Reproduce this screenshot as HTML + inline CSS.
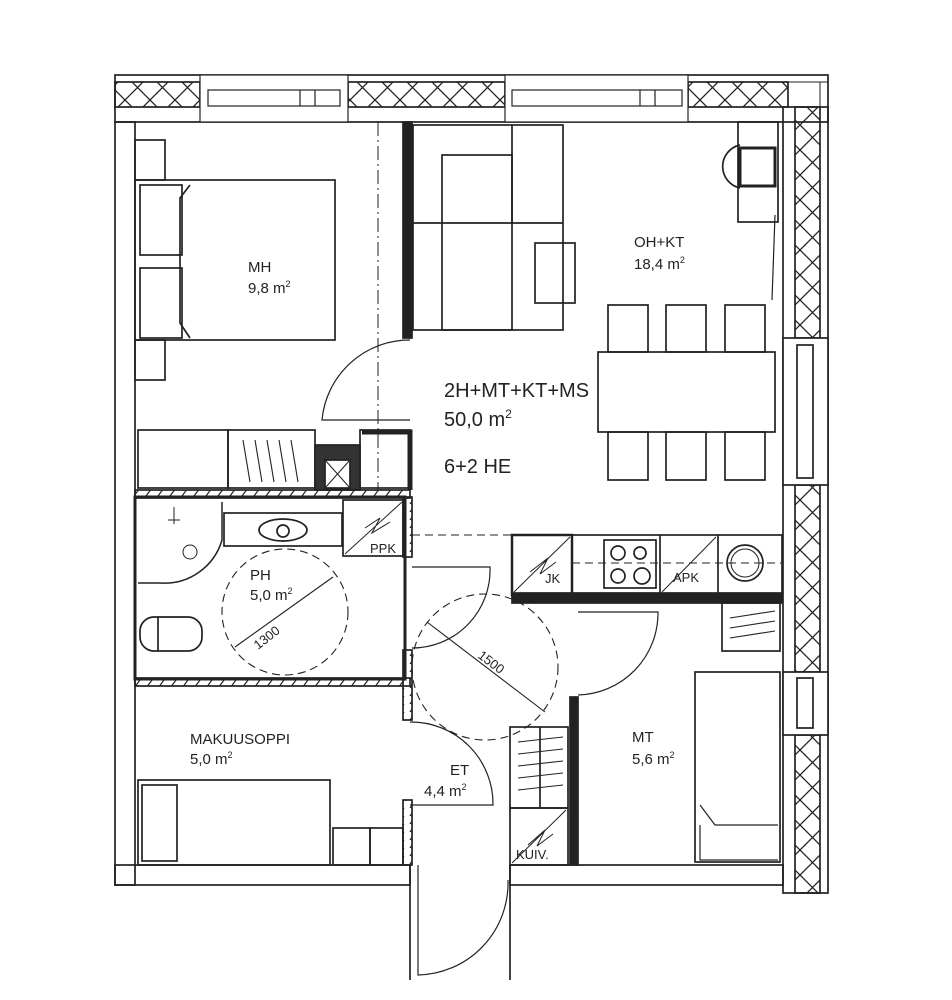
<!DOCTYPE html>
<html><head><meta charset="utf-8"><style>
html,body{margin:0;padding:0;background:#fff;}
svg{display:block;}
text{font-family:"Liberation Sans",sans-serif;fill:#222;}
</style></head><body>
<svg width="952" height="1000" viewBox="0 0 952 1000" xmlns="http://www.w3.org/2000/svg">
<defs>
<pattern id="xh" width="25" height="25" patternUnits="userSpaceOnUse">
<path d="M0 0L25 25M25 0L0 25" stroke="#222" stroke-width="1.3"/>
</pattern>
<pattern id="xv" width="25" height="25" patternUnits="userSpaceOnUse">
<path d="M0 0L25 25M25 0L0 25" stroke="#222" stroke-width="1.3"/>
</pattern>
<pattern id="sl" width="12" height="8" patternUnits="userSpaceOnUse">
<path d="M2 8L8 0" stroke="#222" stroke-width="1.2"/>
</pattern>
</defs>
<g fill="none" stroke="#222" stroke-width="1.7">
<!-- top wall -->
<rect x="115" y="75" width="713" height="47"/>
<line x1="115" y1="82" x2="828" y2="82" stroke-width="1"/>
<line x1="115" y1="107" x2="790" y2="107" stroke-width="1"/>
<rect x="115" y="82" width="85" height="25" fill="url(#xh)"/>
<rect x="348" y="82" width="157" height="25" fill="url(#xh)"/>
<rect x="688" y="82" width="100" height="25" fill="url(#xh)"/>
<g stroke-width="1.2">
<rect x="200" y="75" width="148" height="47" fill="#fff"/>
<rect x="208" y="90" width="132" height="16"/><line x1="300" y1="90" x2="300" y2="106"/><line x1="315" y1="90" x2="315" y2="106"/>
<rect x="505" y="75" width="183" height="47" fill="#fff"/>
<rect x="512" y="90" width="170" height="16"/><line x1="640" y1="90" x2="640" y2="106"/><line x1="655" y1="90" x2="655" y2="106"/>
</g>
<!-- right wall -->
<rect x="783" y="107" width="45" height="786"/>
<line x1="795" y1="107" x2="795" y2="893" stroke-width="1"/>
<line x1="820" y1="82" x2="820" y2="893" stroke-width="1"/>
<rect x="795" y="107" width="25" height="231" fill="url(#xv)"/>
<rect x="795" y="485" width="25" height="187" fill="url(#xv)"/>
<rect x="795" y="735" width="25" height="158" fill="url(#xv)"/>
<rect x="783" y="338" width="45" height="147" fill="#fff"/>
<rect x="797" y="345" width="16" height="133"/>
<rect x="783" y="672" width="45" height="63" fill="#fff"/>
<rect x="797" y="678" width="16" height="50"/>
<!-- left wall -->
<rect x="115" y="122" width="20" height="763"/>
<!-- bottom wall -->
<rect x="115" y="865" width="295" height="20"/>
<rect x="510" y="865" width="273" height="20"/>
<line x1="410" y1="865" x2="410" y2="980"/><line x1="510" y1="865" x2="510" y2="980"/>
<path d="M418 865 L418 975 A92 92 0 0 0 508 880" stroke-width="1.2"/>
<!-- MH / living wall -->
<rect x="403" y="122" width="9" height="216" fill="#222"/>
<line x1="378" y1="122" x2="378" y2="490" stroke-dasharray="14 4 2 4" stroke-width="1"/>
<!-- MH bed -->
<rect x="135" y="140" width="30" height="40"/><rect x="135" y="340" width="30" height="40"/>
<rect x="135" y="180" width="200" height="160"/>
<rect x="140" y="185" width="42" height="70"/><rect x="140" y="268" width="42" height="70"/>
<path d="M190 185 L180 198 L180 323 L190 338"/>
<path d="M410 340 A88 88 0 0 0 322 420 L410 420" stroke-width="1.2"/>
<!-- closets row -->
<rect x="138" y="430" width="90" height="58"/>
<rect x="228" y="430" width="87" height="58"/>
<g stroke-width="1.1"><path d="M243 440l7 42M255 440l7 42M267 440l7 42M279 440l7 42M291 440l7 42"/></g>
<rect x="315" y="445" width="45" height="45" fill="#333"/>
<rect x="325" y="460" width="25" height="28" fill="#fff"/>
<path d="M325 460l25 28M350 460l-25 28" stroke-width="1"/>
<rect x="360" y="430" width="50" height="58"/>
<path d="M362 432 L410 432 L410 490" stroke="#222" stroke-width="5"/>
<!-- bathroom -->
<rect x="135" y="490" width="275" height="8" fill="url(#sl)"/>
<rect x="135" y="678" width="275" height="8" fill="url(#sl)"/>
<rect x="135" y="497" width="270" height="182" stroke-width="3"/>
<path d="M222 502 L222 540 A60 60 0 0 1 160 583 L138 583" stroke-width="1.5"/>
<circle cx="190" cy="552" r="7" stroke-width="1"/>
<path d="M174 507 L174 524M168 520h12" stroke-width="1"/>
<rect x="224" y="513" width="118" height="33"/>
<ellipse cx="283" cy="530" rx="24" ry="11"/><circle cx="283" cy="531" r="6"/>
<rect x="343" y="500" width="60" height="56"/>
<path d="M345 554 L402 502M365 528 L380 518 L372 533 L390 522" stroke-width="1"/>
<rect x="140" y="617" width="62" height="34" rx="14"/><line x1="158" y1="617" x2="158" y2="651"/>
<circle cx="285" cy="612" r="63" stroke-dasharray="8 5" stroke-width="1.1"/>
<path d="M235 647 L333 577" stroke-width="1.1"/>
<!-- hall wall -->
<rect x="403" y="497" width="9" height="60" fill="url(#sl)"/>
<rect x="403" y="650" width="9" height="70" fill="url(#sl)"/>
<rect x="403" y="800" width="9" height="65" fill="url(#sl)"/>
<path d="M412 567 L490 567 A78 78 0 0 1 412 648" stroke-width="1.2"/>
<path d="M410 722 A82 82 0 0 1 493 805 L410 805" stroke-width="1.2"/>
<circle cx="485" cy="667" r="73" stroke-dasharray="8 5" stroke-width="1.1"/>
<path d="M427 622 L545 712" stroke-width="1.1"/>
<line x1="412" y1="535" x2="512" y2="535" stroke-dasharray="8 5" stroke-width="1"/>
<!-- kitchen -->
<rect x="512" y="535" width="270" height="60"/>
<rect x="512" y="535" width="60" height="60" stroke-width="2.5"/>
<path d="M514 592 L570 537M530 572 L548 558 L540 574 L556 562" stroke-width="1"/>
<rect x="604" y="540" width="52" height="48"/>
<circle cx="618" cy="553" r="7"/><circle cx="640" cy="553" r="6"/><circle cx="618" cy="576" r="7"/><circle cx="642" cy="576" r="8"/>
<line x1="660" y1="535" x2="660" y2="595"/><line x1="718" y1="535" x2="718" y2="595"/>
<path d="M662 592 L716 537" stroke-width="1"/>
<circle cx="745" cy="563" r="18"/><circle cx="745" cy="563" r="14" stroke-width="1"/>
<line x1="572" y1="563" x2="782" y2="563" stroke-dasharray="8 5" stroke-width="1"/>
<rect x="512" y="593" width="270" height="10" fill="#222"/>
<rect x="722" y="603" width="58" height="48"/>
<path d="M730 618l45-7M730 628l45-7M730 638l45-7" stroke-width="1.1"/>
<path d="M578 612 L658 612 A82 82 0 0 1 578 695" stroke-width="1.2"/>
<!-- MT wall -->
<rect x="570" y="697" width="8" height="168" fill="#222"/>
<rect x="510" y="727" width="58" height="81"/><line x1="540" y1="727" x2="540" y2="808"/>
<path d="M518 742l45-5M518 754l45-5M518 766l45-5M518 778l45-5M518 790l45-5" stroke-width="1.1"/>
<rect x="510" y="808" width="58" height="57"/>
<path d="M512 863 L566 810M528 845 L545 830 L537 846 L553 834" stroke-width="1"/>
<rect x="695" y="672" width="85" height="190"/>
<path d="M700 805 L715 825 L778 825M700 825 L700 860 L778 860" stroke-width="1.2"/>
<!-- makuusoppi -->
<rect x="138" y="780" width="192" height="85"/>
<rect x="142" y="785" width="35" height="76"/>
<rect x="333" y="828" width="37" height="37"/><rect x="370" y="828" width="33" height="37"/>
<!-- living furniture -->
<rect x="413" y="125" width="150" height="205"/>
<rect x="442" y="155" width="70" height="175"/>
<line x1="413" y1="223" x2="563" y2="223"/><line x1="512" y1="125" x2="512" y2="223"/>
<rect x="535" y="243" width="40" height="60"/>
<rect x="598" y="352" width="177" height="80"/>
<rect x="608" y="305" width="40" height="47"/><rect x="666" y="305" width="40" height="47"/><rect x="725" y="305" width="40" height="47"/>
<rect x="608" y="432" width="40" height="48"/><rect x="666" y="432" width="40" height="48"/><rect x="725" y="432" width="40" height="48"/>
<rect x="738" y="122" width="40" height="100"/>
<path d="M740 145 A22 22 0 0 0 740 188" /><rect x="740" y="148" width="35" height="38" stroke-width="3"/>
<line x1="775" y1="215" x2="772" y2="300" stroke-width="1.2"/>
</g>
<g font-size="15">
<text x="248" y="272">MH</text><text x="248" y="293">9,8 m<tspan font-size="9" dy="-6">2</tspan></text>
<text x="634" y="247">OH+KT</text><text x="634" y="269">18,4 m<tspan font-size="9" dy="-6">2</tspan></text>
<text x="250" y="580">PH</text><text x="250" y="600">5,0 m<tspan font-size="9" dy="-6">2</tspan></text>
<text x="190" y="744">MAKUUSOPPI</text><text x="190" y="764">5,0 m<tspan font-size="9" dy="-6">2</tspan></text>
<text x="450" y="775">ET</text><text x="424" y="796">4,4 m<tspan font-size="9" dy="-6">2</tspan></text>
<text x="632" y="742">MT</text><text x="632" y="764">5,6 m<tspan font-size="9" dy="-6">2</tspan></text>
</g>
<g font-size="20">
<text x="444" y="397">2H+MT+KT+MS</text>
<text x="444" y="426">50,0 m<tspan font-size="12" dy="-8">2</tspan></text>
<text x="444" y="473">6+2 HE</text>
</g>
<g font-size="13">
<text x="370" y="553">PPK</text><text x="545" y="583">JK</text><text x="673" y="582">APK</text><text x="516" y="859">KUIV.</text>
<text x="0" y="0" transform="translate(258 650) rotate(-38)">1300</text>
<text x="0" y="0" transform="translate(477 657) rotate(37)">1500</text>
</g>
</svg>
</body></html>
